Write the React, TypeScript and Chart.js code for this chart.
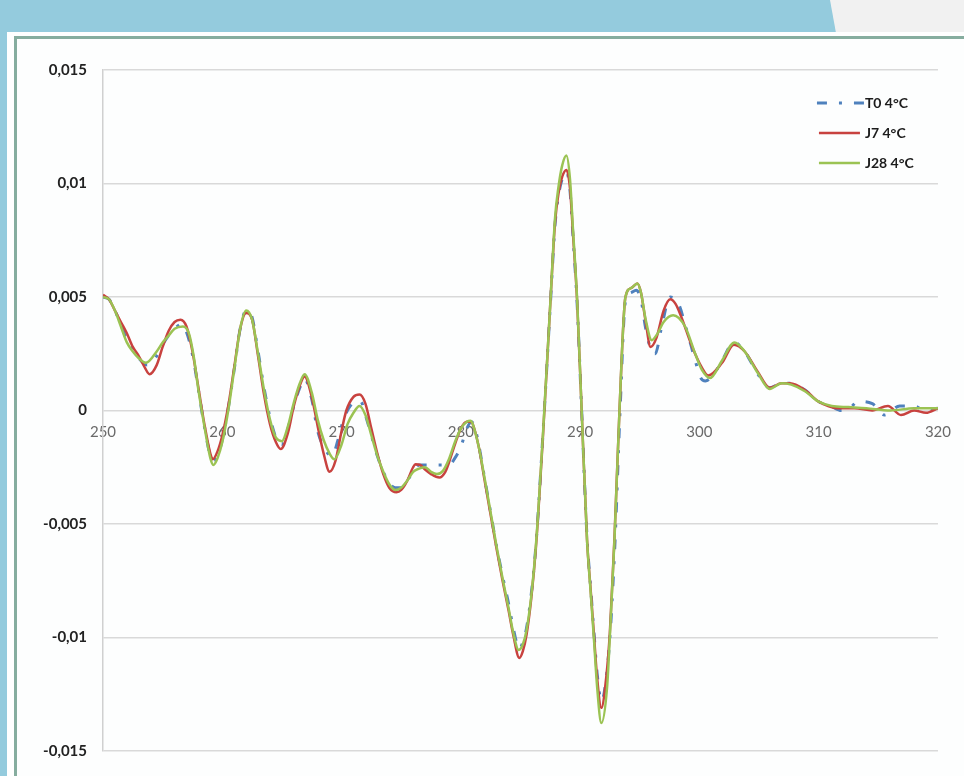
import { useEffect, useRef } from "react";
import { Chart, registerables } from "chart.js";

Chart.register(...registerables);

// Axis ranges
const X_MIN = 250;
const X_MAX = 320;
const X_STEP = 10;
const Y_MIN = -0.015;
const Y_MAX = 0.015;
const Y_STEP = 0.005;

const seriesLabels = ["T0 4°C", "J7 4°C", "J28 4°C"];

// [wavelength (nm), value]
const t0Points: [number, number][] = [
  [250.0, 0.005], [250.5, 0.0049], [251.0, 0.0044], [251.5, 0.0038], [252.0, 0.0031],
  [252.5, 0.0027], [253.0, 0.0023], [253.7, 0.002], [254.5, 0.0024], [255.0, 0.0029],
  [255.5, 0.0033], [256.0, 0.0036], [256.6, 0.0038], [257.1, 0.0033], [257.6, 0.0022],
  [258.0, 0.0009], [258.5, -0.0007], [259.0, -0.002], [259.25, -0.0022], [259.6, -0.002],
  [260.0, -0.0013], [260.5, 0.0001], [261.0, 0.0018], [261.5, 0.0036], [262.0, 0.0044],
  [262.5, 0.0041], [263.0, 0.0026], [263.5, 0.001], [264.0, -0.0003], [264.5, -0.0012],
  [265.0, -0.0015], [265.5, -0.0008], [266.0, 0.0002], [266.5, 0.001], [266.9, 0.0014],
  [267.5, 0.0005], [268.0, -0.0009], [268.5, -0.0016], [269.2, -0.002], [269.7, -0.0013],
  [270.1, -0.0005], [270.6, 0.0001], [271.2, 0.0004], [271.6, 0.0004], [272.0, -0.0002],
  [272.5, -0.0011], [273.0, -0.002], [273.5, -0.0027], [274.0, -0.0032], [274.5, -0.0034],
  [275.0, -0.0034], [275.5, -0.0031], [276.0, -0.0027], [276.5, -0.0024], [277.5, -0.0024],
  [278.5, -0.0024], [279.0, -0.0024], [279.5, -0.0021], [280.0, -0.0016], [280.5, -0.0008],
  [280.9, -0.0005], [281.2, -0.0008], [281.5, -0.0015], [282.0, -0.003], [282.5, -0.0045],
  [283.0, -0.006], [283.5, -0.0073], [284.0, -0.0085], [284.4, -0.0096], [284.9, -0.0105],
  [285.2, -0.0102], [285.5, -0.0096], [285.9, -0.0081], [286.3, -0.0059], [286.9, -0.0009],
  [287.52, 0.0048], [287.9, 0.0082], [288.2, 0.0095], [288.5, 0.0102], [288.85, 0.0105],
  [289.15, 0.0097], [289.4, 0.0077], [289.75, 0.0047], [290.13, 0.0], [290.58, -0.0056],
  [290.87, -0.0077], [291.15, -0.0097], [291.43, -0.0116], [291.8, -0.0128], [292.25, -0.0115],
  [292.55, -0.0096], [292.75, -0.0077], [292.95, -0.0055], [293.35, 0.0], [293.8, 0.0048],
  [294.3, 0.0052], [294.7, 0.0053], [295.1, 0.0049], [295.5, 0.0036], [296.0, 0.0026],
  [296.3, 0.0025], [296.8, 0.0036], [297.55, 0.005], [298.25, 0.0047], [298.9, 0.0036],
  [299.6, 0.0023], [300.05, 0.0015], [300.5, 0.0013], [301.2, 0.0016], [301.9, 0.0022],
  [302.9, 0.003], [303.8, 0.0026], [304.9, 0.0016], [305.9, 0.001], [306.9, 0.0012],
  [307.6, 0.0012], [308.85, 0.0009], [309.96, 0.0004], [311.0, 0.0002], [311.9, 0.0],
  [312.6, 0.0001], [313.3, 0.0004], [314.5, 0.0003], [315.5, -0.0002], [316.8, 0.0002],
  [318.0, 0.0002], [318.9, 0.0], [320.0, 0.0001],
];

const j7Points: [number, number][] = [
  [250.0, 0.0051], [250.5, 0.0049], [251.0, 0.0044], [251.5, 0.0039], [252.0, 0.0034],
  [252.5, 0.0028], [253.0, 0.0024], [253.5, 0.0019], [253.9, 0.0016], [254.5, 0.002],
  [255.0, 0.0028], [255.5, 0.0035], [256.0, 0.0039], [256.5, 0.004], [257.0, 0.0037],
  [257.5, 0.0026], [258.0, 0.001], [258.5, -0.0006], [259.0, -0.0019], [259.2, -0.00215],
  [259.6, -0.0018], [260.0, -0.0011], [260.5, 0.0002], [261.0, 0.0019], [261.5, 0.0036],
  [262.0, 0.0043], [262.5, 0.004], [263.0, 0.0024], [263.5, 0.0007], [264.0, -0.0006],
  [264.5, -0.0014], [264.9, -0.0017], [265.5, -0.001], [266.0, 0.0002], [266.5, 0.0011],
  [266.9, 0.0015], [267.5, 0.0006], [268.0, -0.0007], [268.5, -0.0019], [269.0, -0.0027],
  [269.5, -0.0022], [270.0, -0.0009], [270.4, 0.0], [271.0, 0.0006], [271.5, 0.0007],
  [272.0, 0.0003], [272.5, -0.0008], [273.0, -0.0019], [273.5, -0.0028], [274.0, -0.0034],
  [274.6, -0.0036], [275.0, -0.0035], [275.5, -0.0031], [276.0, -0.0025], [276.2, -0.00237],
  [276.6, -0.0024], [277.0, -0.0026], [277.5, -0.0028], [278.2, -0.00295], [278.7, -0.0027],
  [279.0, -0.0023], [279.5, -0.0015], [280.0, -0.0008], [280.5, -0.0005], [280.8, -0.0005],
  [281.0, -0.0006], [281.5, -0.0016], [282.0, -0.0031], [282.5, -0.0046], [283.0, -0.0061],
  [283.5, -0.0075], [284.0, -0.0088], [284.4, -0.0099], [284.9, -0.0109], [285.2, -0.0106],
  [285.5, -0.0099], [285.9, -0.0083], [286.3, -0.006], [286.9, -0.001], [287.52, 0.0049],
  [287.9, 0.0083], [288.2, 0.0096], [288.5, 0.0103], [288.85, 0.0106], [289.15, 0.0098],
  [289.4, 0.0078], [289.75, 0.0048], [290.13, 0.0], [290.58, -0.0057], [290.87, -0.0078],
  [291.15, -0.0098], [291.43, -0.0118], [291.78, -0.0131], [292.2, -0.0117], [292.49, -0.0098],
  [292.68, -0.0078], [292.88, -0.0056], [293.3, 0.0], [293.8, 0.005], [294.3, 0.0054],
  [294.8, 0.0056], [295.1, 0.0052], [295.5, 0.0039], [295.9, 0.0028], [296.4, 0.0032],
  [297.0, 0.0044], [297.55, 0.0049], [298.0, 0.0047], [298.5, 0.0041], [299.4, 0.0028],
  [300.2, 0.0019], [300.75, 0.00154], [301.9, 0.0021], [302.9, 0.0029], [303.8, 0.0026],
  [304.9, 0.0017], [305.9, 0.001], [306.9, 0.0012], [307.6, 0.0012], [308.85, 0.0009],
  [309.96, 0.0004], [310.8, 0.0002], [311.5, 0.0001], [313.0, 0.0001], [314.5, 0.0],
  [315.8, 0.0002], [316.9, -0.0002], [318.0, 0.0], [319.0, -0.0001], [320.0, 0.0001],
];

const j28Points: [number, number][] = [
  [250.0, 0.005], [250.5, 0.0049], [251.0, 0.0044], [251.5, 0.0037], [252.0, 0.003],
  [252.5, 0.0026], [253.0, 0.0023], [253.6, 0.0021], [254.5, 0.0026], [255.0, 0.003],
  [255.5, 0.0033], [256.0, 0.0036], [256.7, 0.0037], [257.2, 0.0034], [257.6, 0.0024],
  [258.0, 0.0009], [258.5, -0.0007], [259.0, -0.0021], [259.25, -0.0024], [259.6, -0.0021],
  [260.0, -0.0014], [260.5, 0.0], [261.0, 0.0018], [261.5, 0.0036], [262.0, 0.0044],
  [262.5, 0.004], [263.0, 0.0025], [263.5, 0.0009], [264.0, -0.0004], [264.5, -0.0012],
  [265.0, -0.00135], [265.5, -0.0007], [266.0, 0.00035], [266.5, 0.0012], [266.9, 0.0016],
  [267.5, 0.0008], [268.0, -0.0004], [268.5, -0.0013], [269.0, -0.0019], [269.4, -0.00215],
  [270.0, -0.0015], [270.5, -0.0006], [271.0, -0.0001], [271.5, 0.0002], [272.0, -0.0002],
  [272.5, -0.0011], [273.0, -0.002], [273.5, -0.0027], [274.0, -0.00325], [274.5, -0.0035],
  [275.0, -0.0034], [275.5, -0.0031], [276.0, -0.0027], [276.5, -0.00256], [277.0, -0.0025],
  [277.5, -0.0027], [278.0, -0.0028], [278.5, -0.00266], [279.0, -0.00215], [279.5, -0.0014],
  [280.0, -0.0008], [280.5, -0.0005], [280.8, -0.00045], [281.0, -0.0006], [281.5, -0.0016],
  [282.0, -0.003], [282.5, -0.0045], [283.0, -0.006], [283.5, -0.0074], [284.0, -0.0087],
  [284.4, -0.0098], [284.85, -0.01055], [285.2, -0.0103], [285.5, -0.0097], [285.9, -0.0082],
  [286.3, -0.0059], [286.9, -0.0009], [287.52, 0.0049], [287.9, 0.0085], [288.2, 0.0099],
  [288.5, 0.0108], [288.85, 0.01123], [289.15, 0.0102], [289.4, 0.008], [289.75, 0.0049],
  [290.13, 0.0], [290.58, -0.0057], [290.87, -0.0079], [291.15, -0.01], [291.43, -0.0122],
  [291.78, -0.01377], [292.26, -0.0122], [292.49, -0.01], [292.68, -0.0079], [292.88, -0.0057],
  [293.3, 0.0], [293.8, 0.005], [294.3, 0.0054], [294.8, 0.0056], [295.1, 0.0052],
  [295.5, 0.004], [296.0, 0.0031], [296.5, 0.0034], [297.0, 0.0039], [297.8, 0.0042],
  [298.8, 0.0037], [299.65, 0.0025], [300.2, 0.0018], [300.9, 0.00143], [301.9, 0.0022],
  [302.94, 0.003], [303.8, 0.0026], [304.9, 0.00165], [305.9, 0.00095], [306.9, 0.0012],
  [307.7, 0.00114], [308.85, 0.00085], [309.96, 0.0004], [311.1, 0.0002], [312.5, 0.00015],
  [314.0, 0.0001], [316.0, 0.0], [318.0, 0.0001], [320.0, 0.0001],
];

const seriesColors = ["#4f81bd", "#c8423f", "#9bc353"];

// Decimal comma, as in "0,005"
const formatValue = (v: number) => String(Math.round(v * 1000) / 1000).replace(".", ",");

// Small legend in the upper-right corner of the plot area
const cornerLegend = {
  id: "cornerLegend",
  afterDatasetsDraw(chart: any) {
    const { ctx, chartArea } = chart;
    chart.data.datasets.forEach((ds: any, i: number) => {
      const y = chartArea.top + 33 + i * 30;
      const dashed = Array.isArray(ds.borderDash) && ds.borderDash.length > 0;
      const x0 = chartArea.right - (dashed ? 121 : 119);
      const x1 = chartArea.right - (dashed ? 74 : 78);
      ctx.save();
      ctx.strokeStyle = ds.borderColor;
      ctx.lineWidth = ds.borderWidth;
      ctx.setLineDash(dashed ? ds.borderDash : []);
      ctx.beginPath();
      ctx.moveTo(x0, y);
      ctx.lineTo(x1, y);
      ctx.stroke();
      ctx.setLineDash([]);
      ctx.fillStyle = "#1c1c1c";
      ctx.font = "bold 14px Lato";
      ctx.textBaseline = "middle";
      ctx.textAlign = "left";
      ctx.fillText(ds.label, chartArea.right - 73, y);
      ctx.restore();
    });
  },
};

const toXY = (pts: [number, number][]) => pts.map(([x, y]) => ({ x, y }));

export default function App() {
  const canvasRef = useRef<HTMLCanvasElement | null>(null);

  useEffect(() => {
    if (!canvasRef.current) return;
    const chart = new Chart(canvasRef.current, {
      type: "line",
      data: {
        datasets: [
          {
            label: seriesLabels[0],
            data: toXY(t0Points),
            borderColor: seriesColors[0],
            borderWidth: 3,
            borderDash: [10, 12, 3, 12],
            order: 2,
          },
          {
            label: seriesLabels[1],
            data: toXY(j7Points),
            borderColor: seriesColors[1],
            borderWidth: 2.5,
            order: 1,
          },
          {
            label: seriesLabels[2],
            data: toXY(j28Points),
            borderColor: seriesColors[2],
            borderWidth: 2.5,
            order: 0,
          },
        ],
      },
      options: {
        responsive: false,
        animation: false,
        events: [],
        layout: { padding: { left: 0, top: 31, right: 24, bottom: 23 } },
        elements: {
          point: { radius: 0 },
          line: { cubicInterpolationMode: "monotone", fill: false },
        },
        plugins: {
          legend: { display: false },
          tooltip: { enabled: false },
        },
        scales: {
          x: {
            type: "linear",
            min: X_MIN,
            max: X_MAX,
            position: { y: 0 } as any,
            grid: { display: false, drawTicks: false },
            border: { display: false },
            ticks: {
              stepSize: X_STEP,
              padding: 13,
              color: "#6a6a6a",
              font: { family: "Lato", size: 15 },
              maxRotation: 0,
              autoSkip: false,
            },
          },
          y: {
            type: "linear",
            min: Y_MIN,
            max: Y_MAX,
            grid: { color: "#d9d9d9", lineWidth: 1.5, drawTicks: false },
            border: { display: true, color: "#d0d0d0", width: 1.5 },
            ticks: {
              stepSize: Y_STEP,
              padding: 16,
              color: "#222222",
              font: { family: "Lato", size: 15, weight: "bold" },
              callback: (v: any) => formatValue(Number(v)),
            },
            afterFit: (scale: any) => {
              scale.width = 86;
            },
          },
        },
      },
      plugins: [cornerLegend],
    });
    return () => chart.destroy();
  }, []);

  return (
    <div
      style={{
        position: "fixed",
        left: 0,
        top: 0,
        width: 964,
        height: 776,
        background: "#94cbdd",
        overflow: "hidden",
      }}
    >
      <div
        style={{
          position: "absolute",
          left: 0,
          top: 0,
          width: 964,
          height: 33,
          background: "#f1f1f1",
          clipPath: "polygon(830px 0, 964px 0, 964px 33px, 836px 33px)",
        }}
      />
      <div style={{ position: "absolute", left: 7, top: 32, right: 0, bottom: 0, background: "#ffffff" }} />
      <div
        style={{
          position: "absolute",
          left: 14,
          top: 36,
          right: 0,
          bottom: 0,
          borderLeft: "3px solid #86ad9f",
          borderTop: "3px solid #86ad9f",
          background: "#fdfefe",
        }}
      />
      <canvas
        ref={canvasRef}
        width={947}
        height={737}
        style={{ position: "absolute", left: 17, top: 39 }}
      />
    </div>
  );
}
